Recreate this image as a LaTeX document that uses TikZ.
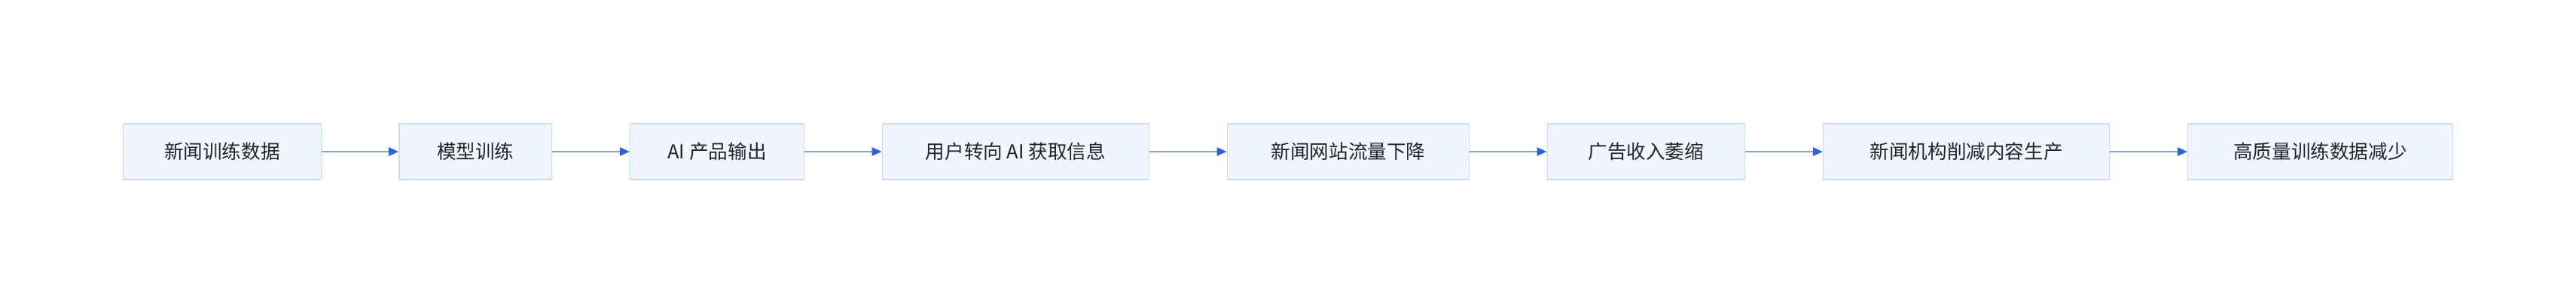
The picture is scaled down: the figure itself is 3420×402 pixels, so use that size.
\documentclass[tikz,border=0pt]{standalone}
\usepackage{fontspec}
\setmainfont{Noto Sans CJK SC}
\usetikzlibrary{arrows.meta}
\definecolor{boxfill}{RGB}{240,245,255}
\definecolor{boxline}{RGB}{204,219,245}
\definecolor{txtcol}{RGB}{31,36,48}
\definecolor{linkcol}{RGB}{125,165,238}
\definecolor{headcol}{RGB}{40,100,225}
\tikzset{
  stepbox/.style={draw=boxline, fill=boxfill, line width=1.5pt, minimum height=74pt,
    inner sep=0pt, text=txtcol, font=\fontsize{25.6pt}{30pt}\selectfont},
  flow/.style={draw=linkcol, line width=2pt,
    -{Triangle[length=13pt,width=11pt,color=headcol,fill=headcol]}}
}
\begin{document}
\begin{tikzpicture}[x=1pt,y=-1pt]
\useasboundingbox (0,0) rectangle (3420,402);
\node[stepbox, minimum width=263pt] (n1) at (294.8,201) {新闻训练数据};
\node[stepbox, minimum width=202.7pt] (n2) at (631.3,201) {模型训练};
\node[stepbox, minimum width=230.6pt] (n3) at (952,201) {AI 产品输出};
\node[stepbox, minimum width=354.4pt] (n4) at (1348.5,201) {用户转向 AI 获取信息};
\node[stepbox, minimum width=321.4pt] (n5) at (1790,201) {新闻网站流量下降};
\node[stepbox, minimum width=262pt] (n6) at (2185.3,201) {广告收入萎缩};
\node[stepbox, minimum width=380pt] (n7) at (2610.7,201) {新闻机构削减内容生产};
\node[stepbox, minimum width=351.6pt] (n8) at (3080.5,201) {高质量训练数据减少};
\draw[flow] (n1) -- (n2);
\draw[flow] (n2) -- (n3);
\draw[flow] (n3) -- (n4);
\draw[flow] (n4) -- (n5);
\draw[flow] (n5) -- (n6);
\draw[flow] (n6) -- (n7);
\draw[flow] (n7) -- (n8);
\end{tikzpicture}
\end{document}
